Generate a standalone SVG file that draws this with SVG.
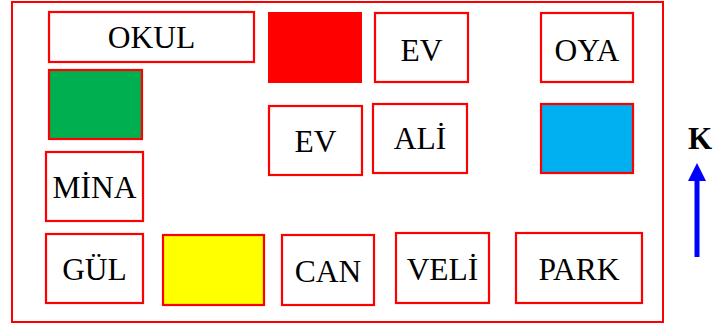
<svg xmlns="http://www.w3.org/2000/svg" width="726" height="323" viewBox="0 0 726 323">
<style>
.b{fill:#fff;stroke:#f00;stroke-width:2.2}
.t{font-family:"Liberation Serif","Times New Roman",serif;font-size:31.5px;fill:#000;text-anchor:middle}
</style>
<rect x="0" y="0" width="726" height="323" fill="#fff"/>
<rect id="frame" x="12" y="2" width="651" height="320" fill="none" stroke="#f00" stroke-width="2"/>
<g id="okul"><rect class="b" x="49" y="12" width="205" height="50"/><text class="t" x="151.5" y="48">OKUL</text></g>
<g id="red"><rect x="268" y="12" width="94" height="71" fill="#f00"/></g>
<g id="ev1"><rect class="b" x="375" y="13" width="93" height="69"/><text class="t" x="421.5" y="61">EV</text></g>
<g id="oya"><rect class="b" x="541" y="13" width="92" height="69"/><text class="t" x="587" y="61">OYA</text></g>
<g id="green"><rect x="49" y="70" width="93" height="69" fill="#00b050" stroke="#f00" stroke-width="2.2"/></g>
<g id="ev2"><rect class="b" x="269" y="106" width="93" height="69"/><text class="t" x="315.5" y="152">EV</text></g>
<g id="ali"><rect class="b" x="373" y="104" width="94" height="69"/><text class="t" x="420" y="149">ALİ</text></g>
<g id="blue"><rect x="541" y="104" width="92" height="69" fill="#00b0f0" stroke="#f00" stroke-width="2.2"/></g>
<g id="mina"><rect class="b" x="46" y="152" width="97" height="69"/><text class="t" x="94.5" y="198">MİNA</text></g>
<g id="gul"><rect class="b" x="46" y="234" width="97" height="69"/><text class="t" x="94.5" y="280">GÜL</text></g>
<g id="yellow"><rect x="163" y="235" width="101" height="70" fill="#ff0" stroke="#f00" stroke-width="2.2"/></g>
<g id="can"><rect class="b" x="282" y="235" width="92" height="70"/><text class="t" x="328" y="282">CAN</text></g>
<g id="veli"><rect class="b" x="396" y="233" width="93" height="70"/><text class="t" x="442.5" y="280">VELİ</text></g>
<g id="park"><rect class="b" x="516" y="233" width="126" height="70"/><text class="t" x="579" y="280">PARK</text></g>
<g id="compass">
<text x="700" y="149" font-family="Liberation Serif,serif" font-weight="bold" font-size="31" text-anchor="middle">K</text>
</g>
<g id="connectors">
<line x1="697" y1="257" x2="697" y2="181" stroke="#00f" stroke-width="5"/>
<path d="M688,181 L697,163 L706,181 Z" fill="#00f"/>
</g>
</svg>
